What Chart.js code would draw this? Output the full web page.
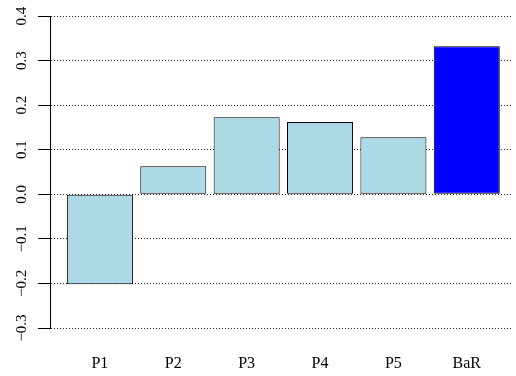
<!DOCTYPE html>
<html>
<head>
<meta charset="utf-8">
<script src="https://cdn.jsdelivr.net/npm/chart.js@4/dist/chart.umd.min.js"></script>
<style>
  html, body { margin: 0; padding: 0; background: #ffffff; }
  #wrap { width: 516px; height: 376px; }
</style>
</head>
<body>
<div id="wrap"><canvas id="c" width="516" height="376"></canvas></div>
<script>
// Returns per portfolio and the benchmark
const categories = ['P1', 'P2', 'P3', 'P4', 'P5', 'BaR'];
const values = [-0.202, 0.063, 0.173, 0.162, 0.128, 0.332];
const barColors = ['#ADD8E6', '#ADD8E6', '#ADD8E6', '#ADD8E6', '#ADD8E6', '#0000FF'];
const yTicks = [-0.3, -0.2, -0.1, 0.0, 0.1, 0.2, 0.3, 0.4];

const points = values.map((v, i) => ({ x: i + 1, y: v }));
const serif = '"Liberation Serif", "Times New Roman", serif';

new Chart(document.getElementById('c'), {
  type: 'bar',
  data: {
    datasets: [{
      data: points,
      backgroundColor: barColors,
      borderColor: '#000000',
      borderWidth: 1,
      borderSkipped: false,
      barPercentage: 0.9,
      categoryPercentage: 1.0
    }]
  },
  options: {
    responsive: false,
    animation: false,
    events: [],
    layout: { padding: { top: 16, right: 3, bottom: 0, left: 0 } },
    plugins: { legend: { display: false }, tooltip: { enabled: false } },
    scales: {
      x: {
        type: 'linear',
        offset: false,
        min: 0.32,
        max: 6.63,
        grid: { display: false, drawTicks: false, offset: false },
        border: { display: false },
        afterBuildTicks: (scale) => { scale.ticks = categories.map((c, i) => ({ value: i + 1 })); },
        afterFit: (scale) => { scale.height = 48; },
        ticks: {
          autoSkip: false,
          maxRotation: 0,
          padding: 26,
          color: '#000000',
          font: { family: serif, size: 16 },
          callback: (v) => categories[Math.round(v) - 1]
        }
      },
      y: {
        min: -0.3,
        max: 0.4,
        afterBuildTicks: (scale) => { scale.ticks = yTicks.map(v => ({ value: v })); },
        afterFit: (scale) => { scale.width = 50; },
        grid: {
          color: '#222222',
          lineWidth: 1,
          tickLength: 12,
          tickColor: '#000000',
          tickBorderDash: []
        },
        border: { display: true, color: '#000000', width: 1, dash: [1, 2] },
        ticks: {
          minRotation: 90,
          maxRotation: 90,
          crossAlign: 'center',
          padding: 2,
          color: '#000000',
          font: { family: serif, size: 15 },
          callback: (v) => (v < 0 ? '\u2212' : '') + Math.abs(v).toFixed(1)
        }
      }
    }
  }
});
</script>
</body>
</html>
